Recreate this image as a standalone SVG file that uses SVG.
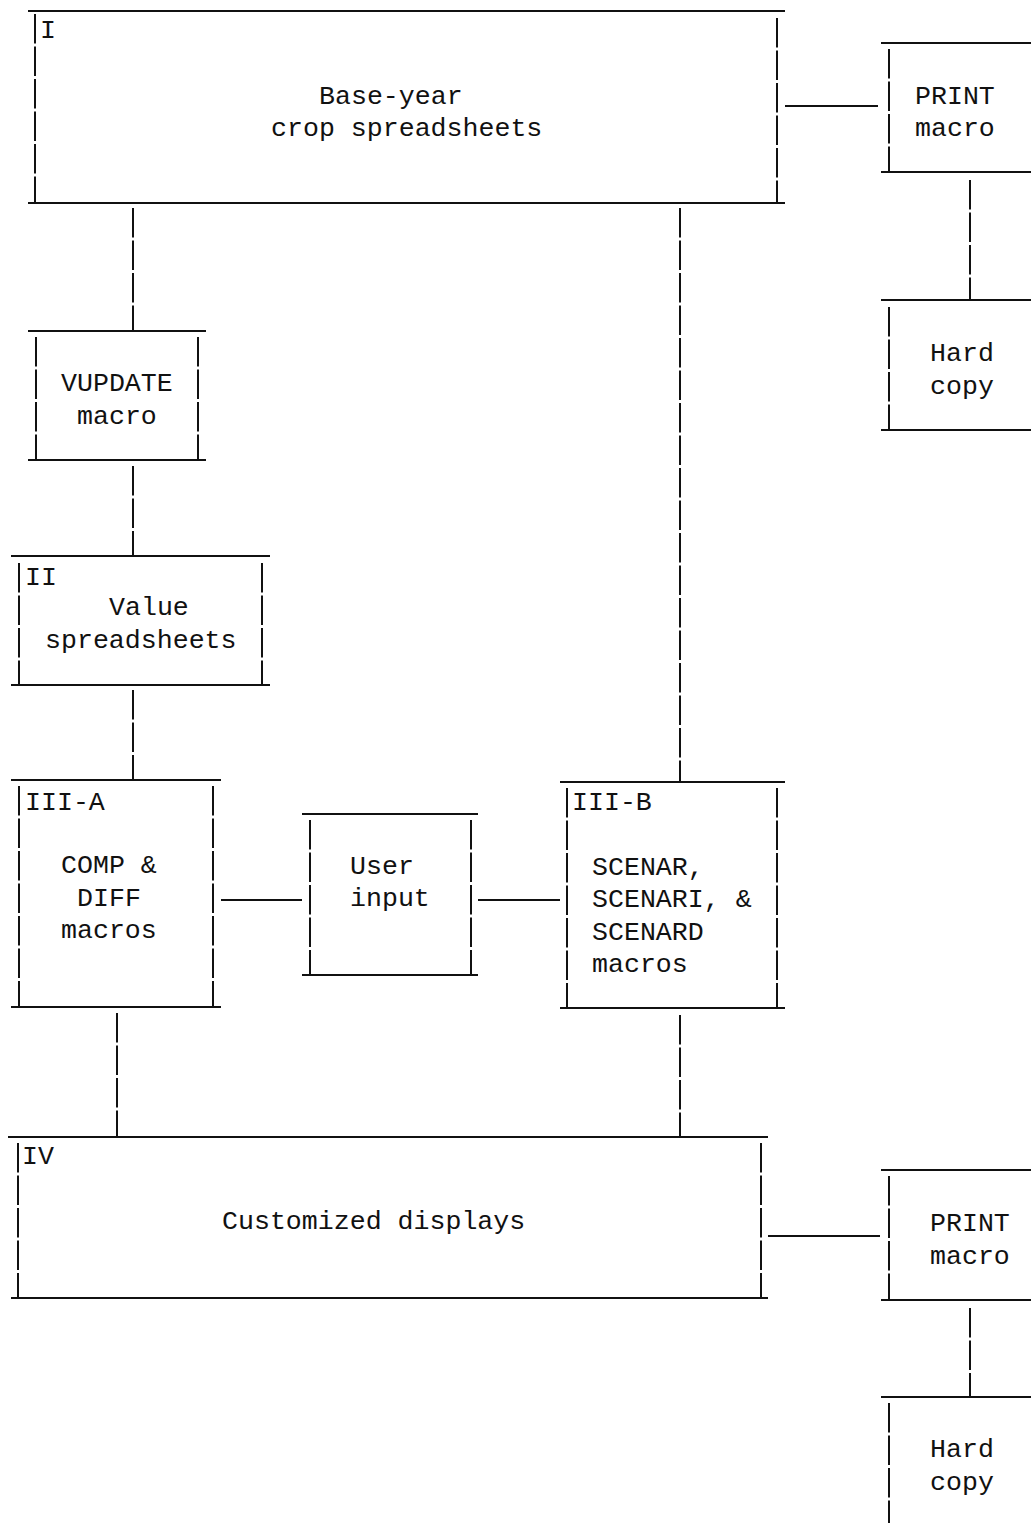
<svg xmlns="http://www.w3.org/2000/svg" width="1031" height="1523" viewBox="0 0 1031 1523">
<style>
  .h { stroke: #111; stroke-width: 2; fill: none; }
  .v { stroke: #111; stroke-width: 2; fill: none; stroke-dasharray: 29.5 3; }
  text { font-family: "Liberation Mono", "Courier New", monospace; font-size: 26.6px; fill: #111; }
</style>
<rect width="1031" height="1523" fill="#fff"/>

<g id="connectors">
  <line class="h" x1="785" y1="106" x2="878" y2="106"/>
  <line class="v" x1="970" y1="180" x2="970" y2="300"/>
  <line class="v" x1="133" y1="208" x2="133" y2="331"/>
  <line class="v" x1="133" y1="466" x2="133" y2="556"/>
  <line class="v" x1="133" y1="690" x2="133" y2="780"/>
  <line class="v" x1="680" y1="208" x2="680" y2="782"/>
  <line class="h" x1="221" y1="900" x2="302" y2="900"/>
  <line class="h" x1="478" y1="900" x2="560" y2="900"/>
  <line class="v" x1="117" y1="1013" x2="117" y2="1137"/>
  <line class="v" x1="680" y1="1015" x2="680" y2="1137"/>
  <line class="h" x1="768" y1="1236" x2="880" y2="1236"/>
  <line class="v" x1="970" y1="1308" x2="970" y2="1397"/>
</g>

<g id="box-I">
  <line class="h" x1="28" y1="11" x2="785" y2="11"/>
  <line class="h" x1="28" y1="203" x2="785" y2="203"/>
  <line class="v" x1="35" y1="14" x2="35" y2="203"/>
  <line class="v" x1="777" y1="18" x2="777" y2="203"/>
  <text x="40" y="38">I</text>
  <text x="319" y="104">Base-year</text>
  <text x="271" y="136">crop spreadsheets</text>
</g>

<g id="print-macro-1">
  <line class="h" x1="881" y1="43" x2="1031" y2="43"/>
  <line class="h" x1="881" y1="172" x2="1031" y2="172"/>
  <line class="v" x1="889" y1="49" x2="889" y2="172"/>
  <text x="915" y="104">PRINT</text>
  <text x="915" y="136">macro</text>
</g>

<g id="hard-copy-1">
  <line class="h" x1="881" y1="300" x2="1031" y2="300"/>
  <line class="h" x1="881" y1="430" x2="1031" y2="430"/>
  <line class="v" x1="889" y1="307" x2="889" y2="430"/>
  <text x="930" y="361">Hard</text>
  <text x="930" y="394">copy</text>
</g>

<g id="vupdate-macro">
  <line class="h" x1="28" y1="331" x2="206" y2="331"/>
  <line class="h" x1="28" y1="460" x2="206" y2="460"/>
  <line class="v" x1="36" y1="337" x2="36" y2="460"/>
  <line class="v" x1="198" y1="337" x2="198" y2="460"/>
  <text x="61" y="391">VUPDATE</text>
  <text x="77" y="424">macro</text>
</g>

<g id="box-II">
  <line class="h" x1="11" y1="556" x2="270" y2="556"/>
  <line class="h" x1="11" y1="685" x2="270" y2="685"/>
  <line class="v" x1="19" y1="563" x2="19" y2="685"/>
  <line class="v" x1="262" y1="563" x2="262" y2="685"/>
  <text x="25" y="585">II</text>
  <text x="109" y="615">Value</text>
  <text x="45" y="648">spreadsheets</text>
</g>

<g id="box-III-A">
  <line class="h" x1="11" y1="780" x2="221" y2="780"/>
  <line class="h" x1="11" y1="1007" x2="221" y2="1007"/>
  <line class="v" x1="19" y1="786" x2="19" y2="1007"/>
  <line class="v" x1="213" y1="786" x2="213" y2="1007"/>
  <text x="25" y="810">III-A</text>
  <text x="61" y="873">COMP &amp;</text>
  <text x="77" y="906">DIFF</text>
  <text x="61" y="938">macros</text>
</g>

<g id="user-input">
  <line class="h" x1="302" y1="814" x2="478" y2="814"/>
  <line class="h" x1="302" y1="975" x2="478" y2="975"/>
  <line class="v" x1="310" y1="820" x2="310" y2="975"/>
  <line class="v" x1="471" y1="820" x2="471" y2="975"/>
  <text x="350" y="874">User</text>
  <text x="350" y="906">input</text>
</g>

<g id="box-III-B">
  <line class="h" x1="560" y1="782" x2="785" y2="782"/>
  <line class="h" x1="560" y1="1008" x2="785" y2="1008"/>
  <line class="v" x1="567" y1="788" x2="567" y2="1008"/>
  <line class="v" x1="777" y1="788" x2="777" y2="1008"/>
  <text x="572" y="810">III-B</text>
  <text x="592" y="875">SCENAR,</text>
  <text x="592" y="907">SCENARI, &amp;</text>
  <text x="592" y="940">SCENARD</text>
  <text x="592" y="972">macros</text>
</g>

<g id="box-IV">
  <line class="h" x1="8" y1="1137" x2="768" y2="1137"/>
  <line class="h" x1="11" y1="1298" x2="768" y2="1298"/>
  <line class="v" x1="18" y1="1143" x2="18" y2="1298"/>
  <line class="v" x1="761" y1="1143" x2="761" y2="1298"/>
  <text x="22" y="1164">IV</text>
  <text x="222" y="1229">Customized displays</text>
</g>

<g id="print-macro-2">
  <line class="h" x1="881" y1="1170" x2="1031" y2="1170"/>
  <line class="h" x1="881" y1="1300" x2="1031" y2="1300"/>
  <line class="v" x1="889" y1="1176" x2="889" y2="1300"/>
  <text x="930" y="1231">PRINT</text>
  <text x="930" y="1264">macro</text>
</g>

<g id="hard-copy-2">
  <line class="h" x1="881" y1="1397" x2="1031" y2="1397"/>
  <line class="v" x1="889" y1="1403" x2="889" y2="1523"/>
  <text x="930" y="1457">Hard</text>
  <text x="930" y="1490">copy</text>
</g>
</svg>
